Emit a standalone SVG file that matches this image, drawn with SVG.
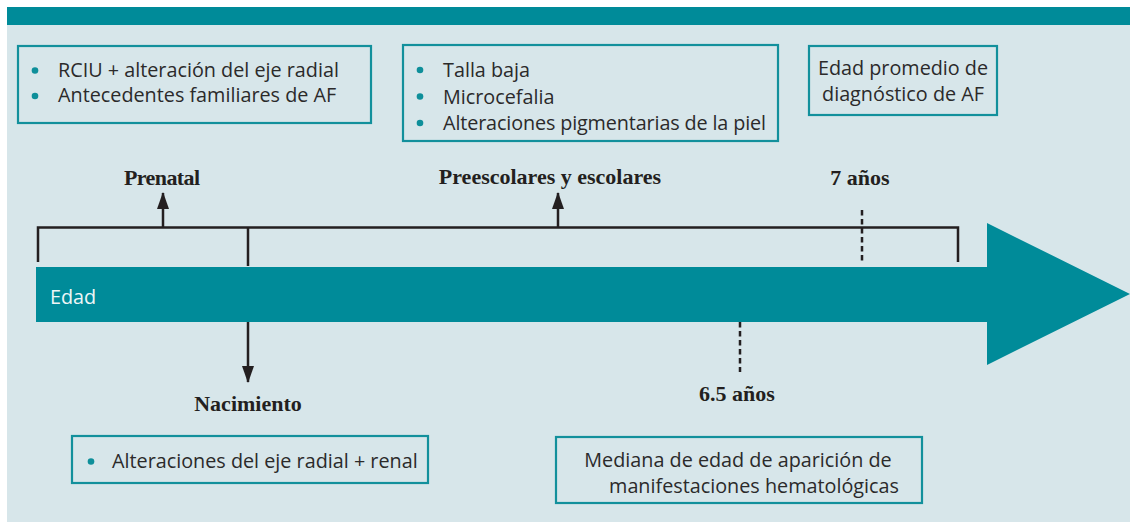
<svg xmlns="http://www.w3.org/2000/svg" width="1130" height="522" viewBox="0 0 1130 522">
<defs>
<style>
.bg{fill:#d7e6ea}
.teal{fill:#008b99}
.box{fill:none;stroke:#12909c;stroke-width:2.2}
.t{font-family:"Open Sans","Noto Sans",sans-serif;font-size:19.8px;fill:#2b2a2a}
.w{font-family:"Open Sans","Noto Sans",sans-serif;font-size:19.8px;fill:#eef6f7}
.b{font-family:"Liberation Serif","Times New Roman",serif;font-weight:bold;font-size:22px;fill:#231f20;text-anchor:middle}
.dot{fill:#0e8f9a}
.ln{fill:none;stroke:#231f20;stroke-width:2.5}
.dash{fill:none;stroke:#231f20;stroke-width:2.5;stroke-dasharray:5.5 3.5}
</style>
<marker id="ah" viewBox="0 0 17 12" refX="16" refY="6" markerWidth="17" markerHeight="12" markerUnits="userSpaceOnUse" orient="auto">
<path d="M0,0 L17,6 L0,12 z" fill="#231f20"/>
</marker>
</defs>
<rect class="bg" x="7" y="7" width="1123" height="515"/>
<rect class="teal" x="7" y="7" width="1123" height="18"/>

<g id="timeline">
<path class="teal" d="M36,267 H987 V223 L1130,294 L987,365 V322 H36 Z"/>
<text class="w" x="50" y="304">Edad</text>
</g>

<g id="connectors">
<path class="ln" d="M38,262 V227.5 H958 V262"/>
<line class="ln" x1="248" y1="227" x2="248" y2="266"/>
<line class="ln" x1="248" y1="322" x2="248" y2="382" marker-end="url(#ah)"/>
<line class="ln" x1="163" y1="227" x2="163" y2="193" marker-end="url(#ah)"/>
<line class="ln" x1="558" y1="227" x2="558" y2="193" marker-end="url(#ah)"/>
<line class="dash" x1="862" y1="210" x2="862" y2="263"/>
<line class="dash" x1="740" y1="322" x2="740" y2="372"/>
</g>

<g id="prenatal-label"><text class="b" x="162" y="185" textLength="76">Prenatal</text></g>
<g id="preescolares-label"><text class="b" x="550" y="184">Preescolares y escolares</text></g>
<g id="siete-label"><text class="b" x="860" y="185">7 años</text></g>
<g id="nacimiento-label"><text class="b" x="248" y="411">Nacimiento</text></g>
<g id="seis-label"><text class="b" x="737" y="401">6.5 años</text></g>

<g id="box-prenatal">
<rect class="box" x="18" y="46" width="353" height="77"/>
<circle class="dot" cx="35" cy="70.5" r="3.3"/>
<circle class="dot" cx="35" cy="96" r="3.3"/>
<text class="t" x="58" y="77">RCIU + alteración del eje radial</text>
<text class="t" x="58" y="102">Antecedentes familiares de AF</text>
</g>

<g id="box-preescolares">
<rect class="box" x="403" y="45" width="375" height="96"/>
<circle class="dot" cx="420" cy="70" r="3.3"/>
<circle class="dot" cx="420" cy="96.5" r="3.3"/>
<circle class="dot" cx="420" cy="123" r="3.3"/>
<text class="t" x="443" y="77">Talla baja</text>
<text class="t" x="443" y="103.5">Microcefalia</text>
<text class="t" x="443" y="130" textLength="323">Alteraciones pigmentarias de la piel</text>
</g>

<g id="box-diagnostico">
<rect class="box" x="809" y="46" width="188" height="69"/>
<text class="t" x="903" y="75" text-anchor="middle">Edad promedio de</text>
<text class="t" x="903" y="101" text-anchor="middle">diagnóstico de AF</text>
</g>

<g id="box-nacimiento">
<rect class="box" x="72" y="436" width="356" height="47"/>
<circle class="dot" cx="91" cy="461.5" r="3.3"/>
<text class="t" x="112" y="468">Alteraciones del eje radial + renal</text>
</g>

<g id="box-hemato">
<rect class="box" x="556" y="437" width="366" height="66"/>
<text class="t" x="738" y="467" text-anchor="middle">Mediana de edad de aparición de</text>
<text class="t" x="754" y="493" text-anchor="middle">manifestaciones hematológicas</text>
</g>
</svg>
